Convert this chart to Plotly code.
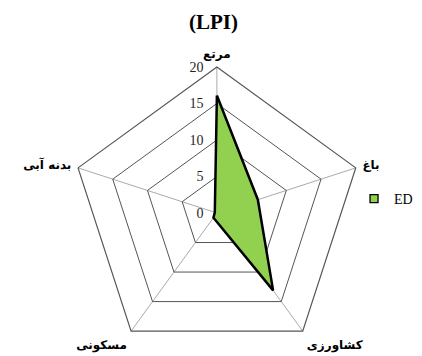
import plotly.graph_objects as go

# categories clockwise from the top
categories = ["مرتع", "باغ", "کشاورزی", "مسکونی", "بدنه آبی"]
ed_values = [16.1, 5.9, 13.1, 0.8, 0.3]
radial_ticks = [0, 5, 10, 15, 20]
series_name = "ED"

fill_green = "#92D050"

# close the polygon
theta = categories + categories[:1]
r = ed_values + ed_values[:1]

fig = go.Figure()

fig.add_trace(go.Scatterpolar(
    r=r,
    theta=theta,
    mode="lines",
    fill="toself",
    fillcolor=fill_green,
    line=dict(color="black", width=2.5),
    showlegend=False,
))

# legend-only entry (small square like the original)
fig.add_trace(go.Scatterpolar(
    r=[None],
    theta=[categories[0]],
    mode="markers",
    name=series_name,
    marker=dict(symbol="square", size=8, color=fill_green,
                line=dict(color="black", width=1.3)),
))

fig.update_layout(
    width=422,
    height=356,
    paper_bgcolor="white",
    plot_bgcolor="white",
    margin=dict(l=0, r=0, t=59, b=5, autoexpand=False),
    title=dict(text="<b>(LPI)</b>", x=0.487, xanchor="center", y=0.961, yanchor="middle",
               font=dict(family="Liberation Serif", size=21, color="black")),
    showlegend=True,
    legend=dict(x=0.82, y=0.548, xanchor="left", yanchor="middle",
                font=dict(family="Liberation Serif", size=14, color="black"),
                bgcolor="rgba(0,0,0,0)", itemwidth=30),
    polar=dict(
        domain=dict(x=[0.0, 0.99], y=[0.0, 1.0]),
        bgcolor="white",
        gridshape="linear",
        angularaxis=dict(
            direction="clockwise",
            rotation=90,
            tickmode="array",
            tickvals=categories,
            ticktext=["<b>" + c + "</b>" for c in categories],
            showline=True,
            linecolor="#555555",
            linewidth=1.2,
            gridcolor="#AAAAAA",
            gridwidth=1,
            ticks="outside",
            ticklen=4,
            tickcolor="rgba(0,0,0,0)",
            tickfont=dict(family="DejaVu Sans", size=12, color="black"),
        ),
        radialaxis=dict(
            range=[0, 20],
            tickvals=radial_ticks,
            angle=90,
            tickangle=90,
            side="counterclockwise",
            showline=False,
            ticks="outside",
            ticklen=8,
            tickcolor="rgba(0,0,0,0)",
            gridcolor="#555555",
            gridwidth=1.2,
            tickfont=dict(family="Liberation Serif", size=14, color="#262626"),
        ),
    ),
)

fig.write_html("out.html")
